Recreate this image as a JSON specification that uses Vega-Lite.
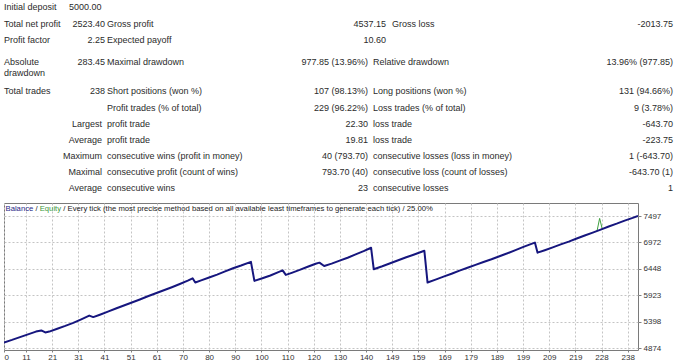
{
  "$schema": "https://vega.github.io/schema/vega-lite/v6.json",
  "padding": {"left": 3, "top": 0, "right": 0, "bottom": 0},
  "spacing": 6,
  "background": "white",
  "config": {
    "view": {"stroke": null},
    "text": {"font": "Liberation Sans"},
    "axis": {"labelFont": "Liberation Sans", "labelOverlap": false, "title": null}
  },
  "datasets": {
    "stats": [
      {"r": 1, "col": 1, "text": "Initial deposit"},
      {"r": 1, "col": 2, "text": "5000.00"},
      {"r": 2, "col": 1, "text": "Total net profit"},
      {"r": 2, "col": 4, "text": "2523.40"},
      {"r": 2, "col": 5, "text": "Gross profit"},
      {"r": 2, "col": 8, "text": "4537.15"},
      {"r": 2, "col": 9, "text": "Gross loss"},
      {"r": 2, "col": 10, "text": "-2013.75"},
      {"r": 3, "col": 1, "text": "Profit factor"},
      {"r": 3, "col": 4, "text": "2.25"},
      {"r": 3, "col": 5, "text": "Expected payoff"},
      {"r": 3, "col": 8, "text": "10.60"},
      {"r": 4, "col": 1, "text": ["Absolute", "drawdown"]},
      {"r": 4, "col": 4, "text": "283.45"},
      {"r": 4, "col": 5, "text": "Maximal drawdown"},
      {"r": 4, "col": 6, "text": "977.85 (13.96%)"},
      {"r": 4, "col": 7, "text": "Relative drawdown"},
      {"r": 4, "col": 10, "text": "13.96% (977.85)"},
      {"r": 5, "col": 1, "text": "Total trades"},
      {"r": 5, "col": 4, "text": "238"},
      {"r": 5, "col": 5, "text": "Short positions (won %)"},
      {"r": 5, "col": 6, "text": "107 (98.13%)"},
      {"r": 5, "col": 7, "text": "Long positions (won %)"},
      {"r": 5, "col": 10, "text": "131 (94.66%)"},
      {"r": 6, "col": 5, "text": "Profit trades (% of total)"},
      {"r": 6, "col": 6, "text": "229 (96.22%)"},
      {"r": 6, "col": 7, "text": "Loss trades (% of total)"},
      {"r": 6, "col": 10, "text": "9 (3.78%)"},
      {"r": 7, "col": 3, "text": "Largest"},
      {"r": 7, "col": 5, "text": "profit trade"},
      {"r": 7, "col": 6, "text": "22.30"},
      {"r": 7, "col": 7, "text": "loss trade"},
      {"r": 7, "col": 10, "text": "-643.70"},
      {"r": 8, "col": 3, "text": "Average"},
      {"r": 8, "col": 5, "text": "profit trade"},
      {"r": 8, "col": 6, "text": "19.81"},
      {"r": 8, "col": 7, "text": "loss trade"},
      {"r": 8, "col": 10, "text": "-223.75"},
      {"r": 9, "col": 3, "text": "Maximum"},
      {"r": 9, "col": 5, "text": "consecutive wins (profit in money)"},
      {"r": 9, "col": 6, "text": "40 (793.70)"},
      {"r": 9, "col": 7, "text": "consecutive losses (loss in money)"},
      {"r": 9, "col": 10, "text": "1 (-643.70)"},
      {"r": 10, "col": 3, "text": "Maximal"},
      {"r": 10, "col": 5, "text": "consecutive profit (count of wins)"},
      {"r": 10, "col": 6, "text": "793.70 (40)"},
      {"r": 10, "col": 7, "text": "consecutive loss (count of losses)"},
      {"r": 10, "col": 10, "text": "-643.70 (1)"},
      {"r": 11, "col": 3, "text": "Average"},
      {"r": 11, "col": 5, "text": "consecutive wins"},
      {"r": 11, "col": 6, "text": "23"},
      {"r": 11, "col": 7, "text": "consecutive losses"},
      {"r": 11, "col": 10, "text": "1"}
    ],
    "curve": [
      {"series": "Balance", "trade": 0, "value": 4990},
      {"series": "Balance", "trade": 3, "value": 5040},
      {"series": "Balance", "trade": 6, "value": 5095},
      {"series": "Balance", "trade": 9, "value": 5150},
      {"series": "Balance", "trade": 12, "value": 5205},
      {"series": "Balance", "trade": 14, "value": 5228},
      {"series": "Balance", "trade": 15.5, "value": 5188},
      {"series": "Balance", "trade": 17, "value": 5205},
      {"series": "Balance", "trade": 20, "value": 5262},
      {"series": "Balance", "trade": 23, "value": 5318},
      {"series": "Balance", "trade": 26, "value": 5378},
      {"series": "Balance", "trade": 29, "value": 5448},
      {"series": "Balance", "trade": 32, "value": 5522},
      {"series": "Balance", "trade": 33.5, "value": 5492},
      {"series": "Balance", "trade": 36, "value": 5540},
      {"series": "Balance", "trade": 39, "value": 5600},
      {"series": "Balance", "trade": 42, "value": 5662},
      {"series": "Balance", "trade": 45, "value": 5722},
      {"series": "Balance", "trade": 48, "value": 5782},
      {"series": "Balance", "trade": 51, "value": 5842},
      {"series": "Balance", "trade": 54, "value": 5905},
      {"series": "Balance", "trade": 57, "value": 5965},
      {"series": "Balance", "trade": 60, "value": 6025},
      {"series": "Balance", "trade": 63, "value": 6085},
      {"series": "Balance", "trade": 66, "value": 6148},
      {"series": "Balance", "trade": 69, "value": 6215},
      {"series": "Balance", "trade": 70.8, "value": 6262},
      {"series": "Balance", "trade": 71.8, "value": 6178},
      {"series": "Balance", "trade": 74, "value": 6220},
      {"series": "Balance", "trade": 77, "value": 6278},
      {"series": "Balance", "trade": 80, "value": 6335},
      {"series": "Balance", "trade": 83, "value": 6398},
      {"series": "Balance", "trade": 86, "value": 6460},
      {"series": "Balance", "trade": 89, "value": 6515},
      {"series": "Balance", "trade": 92.7, "value": 6588},
      {"series": "Balance", "trade": 94, "value": 6210},
      {"series": "Balance", "trade": 97, "value": 6262},
      {"series": "Balance", "trade": 100, "value": 6318},
      {"series": "Balance", "trade": 103, "value": 6385},
      {"series": "Balance", "trade": 104.6, "value": 6420},
      {"series": "Balance", "trade": 105.8, "value": 6330},
      {"series": "Balance", "trade": 108, "value": 6370},
      {"series": "Balance", "trade": 111, "value": 6428},
      {"series": "Balance", "trade": 114, "value": 6490},
      {"series": "Balance", "trade": 117, "value": 6550},
      {"series": "Balance", "trade": 118.4, "value": 6572},
      {"series": "Balance", "trade": 120.2, "value": 6505},
      {"series": "Balance", "trade": 123, "value": 6552},
      {"series": "Balance", "trade": 126, "value": 6612},
      {"series": "Balance", "trade": 129, "value": 6670},
      {"series": "Balance", "trade": 132, "value": 6735},
      {"series": "Balance", "trade": 135, "value": 6800},
      {"series": "Balance", "trade": 137.8, "value": 6868},
      {"series": "Balance", "trade": 138.8, "value": 6442},
      {"series": "Balance", "trade": 142, "value": 6500},
      {"series": "Balance", "trade": 145, "value": 6560},
      {"series": "Balance", "trade": 148, "value": 6620},
      {"series": "Balance", "trade": 151, "value": 6678},
      {"series": "Balance", "trade": 154, "value": 6735},
      {"series": "Balance", "trade": 157.8, "value": 6808},
      {"series": "Balance", "trade": 159, "value": 6178},
      {"series": "Balance", "trade": 162, "value": 6235},
      {"series": "Balance", "trade": 165, "value": 6295},
      {"series": "Balance", "trade": 168, "value": 6352},
      {"series": "Balance", "trade": 171, "value": 6415},
      {"series": "Balance", "trade": 174, "value": 6470},
      {"series": "Balance", "trade": 177, "value": 6528},
      {"series": "Balance", "trade": 180, "value": 6585},
      {"series": "Balance", "trade": 183, "value": 6640},
      {"series": "Balance", "trade": 186, "value": 6700},
      {"series": "Balance", "trade": 189, "value": 6758},
      {"series": "Balance", "trade": 192, "value": 6820},
      {"series": "Balance", "trade": 195, "value": 6885},
      {"series": "Balance", "trade": 198, "value": 6945},
      {"series": "Balance", "trade": 199.3, "value": 6970},
      {"series": "Balance", "trade": 200.3, "value": 6770},
      {"series": "Balance", "trade": 203, "value": 6818},
      {"series": "Balance", "trade": 206, "value": 6875},
      {"series": "Balance", "trade": 209, "value": 6935},
      {"series": "Balance", "trade": 212, "value": 6990},
      {"series": "Balance", "trade": 215, "value": 7050},
      {"series": "Balance", "trade": 218, "value": 7110},
      {"series": "Balance", "trade": 221, "value": 7168},
      {"series": "Balance", "trade": 224, "value": 7228},
      {"series": "Balance", "trade": 227, "value": 7290},
      {"series": "Balance", "trade": 230, "value": 7345},
      {"series": "Balance", "trade": 233, "value": 7405},
      {"series": "Balance", "trade": 236, "value": 7460},
      {"series": "Balance", "trade": 238, "value": 7500},
      {"series": "Equity", "trade": 222.6, "value": 7195},
      {"series": "Equity", "trade": 223.6, "value": 7450},
      {"series": "Equity", "trade": 224.6, "value": 7235}
    ],
    "header": [
      {"part": "balance", "text": "Balance"},
      {"part": "sep", "text": "/"},
      {"part": "equity", "text": "Equity"},
      {"part": "rest", "text": "/ Every tick (the most precise method based on all available least timeframes to generate each tick) / 25.00%"}
    ]
  },
  "vconcat": [
    {
      "width": 672,
      "height": 196,
      "data": {"name": "stats"},
      "encoding": {
        "x": {"field": "col", "type": "quantitative", "axis": null,
              "scale": {"domain": [1, 2, 3, 4, 5, 6, 7, 8, 9, 10], "range": [0, 65, 98, 101, 103, 364, 369, 382, 388, 669], "zero": false, "nice": false}},
        "y": {"field": "r", "type": "quantitative", "axis": null,
              "scale": {"domain": [1, 2, 3, 4, 5, 6, 7, 8, 9, 10, 11], "range": [7, 24, 40, 62, 91, 108, 124, 140, 156, 172, 188], "zero": false, "nice": false}},
        "text": {"field": "text"}
      },
      "layer": [
        {
          "transform": [{"filter": "indexof([1, 2, 5, 7, 9], datum.col) >= 0"}],
          "mark": {"type": "text", "align": "left", "baseline": "middle", "fontSize": 9, "color": "#2b2b2b", "lineHeight": 10.5}
        },
        {
          "transform": [{"filter": "indexof([3, 4, 6, 8, 10], datum.col) >= 0"}],
          "mark": {"type": "text", "align": "right", "baseline": "middle", "fontSize": 9, "color": "#2b2b2b", "lineHeight": 10.5}
        }
      ]
    },
    {
      "width": 634,
      "height": 147,
      "view": {"stroke": "#7a7a7a"},
      "layer": [
        {
          "data": {"name": "curve"},
          "transform": [{"filter": "datum.series === 'Equity'"}],
          "mark": {"type": "line", "color": "#3fa03f", "strokeWidth": 1, "strokeJoin": "round", "clip": true},
          "encoding": {
            "x": {"field": "trade", "type": "quantitative",
                  "scale": {"domain": [0, 238], "nice": false, "zero": false},
                  "axis": {"title": null, "domain": false, "tickSize": 2, "tickColor": "#808080", "values": [0, 8.26, 18.08, 27.9, 37.72, 47.54, 57.36, 67.18, 77.0, 86.82, 96.64, 106.46, 116.28, 126.1, 135.92, 145.74, 155.56, 165.38, 175.2, 185.02, 194.84, 204.66, 214.48, 224.3, 234.12], "labelExpr": "[0,11,21,31,41,51,61,70,80,90,100,110,120,130,140,149,159,169,179,189,199,209,219,228,238][round((datum.value+1.56)/9.82)]", "labelFontSize": 8, "labelColor": "#333333", "labelPadding": 1, "labelFlush": true, "labelOverlap": false, "grid": true, "gridColor": "#c4c4c4", "gridDash": [2, 2]}},
            "y": {"field": "value", "type": "quantitative",
                  "scale": {"domain": [4840, 7755], "nice": false, "zero": false},
                  "axis": {"orient": "right", "title": null, "domain": false, "tickSize": 3, "tickColor": "#808080", "values": [4874, 5398, 5923, 6448, 6972, 7497], "format": "d", "labelOverlap": false, "labelFontSize": 8, "labelColor": "#333333", "labelPadding": 2, "grid": true, "gridColor": "#c4c4c4", "gridDash": [2, 2]}}
          }
        },
        {
          "data": {"name": "curve"},
          "transform": [{"filter": "datum.series === 'Balance'"}],
          "mark": {"type": "line", "color": "#16167e", "strokeWidth": 2, "strokeJoin": "round", "clip": true},
          "encoding": {
            "x": {"field": "trade", "type": "quantitative",
                  "axis": {"title": null, "domain": false, "tickSize": 2, "tickColor": "#808080", "values": [0, 8.26, 18.08, 27.9, 37.72, 47.54, 57.36, 67.18, 77.0, 86.82, 96.64, 106.46, 116.28, 126.1, 135.92, 145.74, 155.56, 165.38, 175.2, 185.02, 194.84, 204.66, 214.48, 224.3, 234.12], "labelExpr": "[0,11,21,31,41,51,61,70,80,90,100,110,120,130,140,149,159,169,179,189,199,209,219,228,238][round((datum.value+1.56)/9.82)]", "labelFontSize": 8, "labelColor": "#333333", "labelPadding": 1, "labelFlush": true, "labelOverlap": false, "grid": true, "gridColor": "#c4c4c4", "gridDash": [2, 2]}},
            "y": {"field": "value", "type": "quantitative",
                  "axis": {"orient": "right", "title": null, "domain": false, "tickSize": 3, "tickColor": "#808080", "values": [4874, 5398, 5923, 6448, 6972, 7497], "format": "d", "labelOverlap": false, "labelFontSize": 8, "labelColor": "#333333", "labelPadding": 2, "grid": true, "gridColor": "#c4c4c4", "gridDash": [2, 2]}}
          }
        },
        {
          "data": {"name": "header"},
          "transform": [{"filter": "datum.part === 'balance'"}],
          "mark": {"type": "text", "align": "left", "baseline": "middle", "dx": 1.5, "dy": 6, "fontSize": 7.7, "color": "#1e1e86"},
          "encoding": {
            "x": {"datum": 0, "type": "quantitative",
                  "axis": {"title": null, "domain": false, "tickSize": 2, "tickColor": "#808080", "values": [0, 8.26, 18.08, 27.9, 37.72, 47.54, 57.36, 67.18, 77.0, 86.82, 96.64, 106.46, 116.28, 126.1, 135.92, 145.74, 155.56, 165.38, 175.2, 185.02, 194.84, 204.66, 214.48, 224.3, 234.12], "labelExpr": "[0,11,21,31,41,51,61,70,80,90,100,110,120,130,140,149,159,169,179,189,199,209,219,228,238][round((datum.value+1.56)/9.82)]", "labelFontSize": 8, "labelColor": "#333333", "labelPadding": 1, "labelFlush": true, "labelOverlap": false, "grid": true, "gridColor": "#c4c4c4", "gridDash": [2, 2]}},
            "y": {"datum": 7755, "type": "quantitative",
                  "axis": {"orient": "right", "title": null, "domain": false, "tickSize": 3, "tickColor": "#808080", "values": [4874, 5398, 5923, 6448, 6972, 7497], "format": "d", "labelOverlap": false, "labelFontSize": 8, "labelColor": "#333333", "labelPadding": 2, "grid": true, "gridColor": "#c4c4c4", "gridDash": [2, 2]}},
            "text": {"field": "text"}
          }
        },
        {
          "data": {"name": "header"},
          "transform": [{"filter": "datum.part === 'sep'"}],
          "mark": {"type": "text", "align": "left", "baseline": "middle", "dx": 31.5, "dy": 6, "fontSize": 7.7, "color": "#222222"},
          "encoding": {
            "x": {"datum": 0, "type": "quantitative",
                  "axis": {"title": null, "domain": false, "tickSize": 2, "tickColor": "#808080", "values": [0, 8.26, 18.08, 27.9, 37.72, 47.54, 57.36, 67.18, 77.0, 86.82, 96.64, 106.46, 116.28, 126.1, 135.92, 145.74, 155.56, 165.38, 175.2, 185.02, 194.84, 204.66, 214.48, 224.3, 234.12], "labelExpr": "[0,11,21,31,41,51,61,70,80,90,100,110,120,130,140,149,159,169,179,189,199,209,219,228,238][round((datum.value+1.56)/9.82)]", "labelFontSize": 8, "labelColor": "#333333", "labelPadding": 1, "labelFlush": true, "labelOverlap": false, "grid": true, "gridColor": "#c4c4c4", "gridDash": [2, 2]}},
            "y": {"datum": 7755, "type": "quantitative",
                  "axis": {"orient": "right", "title": null, "domain": false, "tickSize": 3, "tickColor": "#808080", "values": [4874, 5398, 5923, 6448, 6972, 7497], "format": "d", "labelOverlap": false, "labelFontSize": 8, "labelColor": "#333333", "labelPadding": 2, "grid": true, "gridColor": "#c4c4c4", "gridDash": [2, 2]}},
            "text": {"field": "text"}
          }
        },
        {
          "data": {"name": "header"},
          "transform": [{"filter": "datum.part === 'equity'"}],
          "mark": {"type": "text", "align": "left", "baseline": "middle", "dx": 35.7, "dy": 6, "fontSize": 7.7, "color": "#3c9a3c"},
          "encoding": {
            "x": {"datum": 0, "type": "quantitative",
                  "axis": {"title": null, "domain": false, "tickSize": 2, "tickColor": "#808080", "values": [0, 8.26, 18.08, 27.9, 37.72, 47.54, 57.36, 67.18, 77.0, 86.82, 96.64, 106.46, 116.28, 126.1, 135.92, 145.74, 155.56, 165.38, 175.2, 185.02, 194.84, 204.66, 214.48, 224.3, 234.12], "labelExpr": "[0,11,21,31,41,51,61,70,80,90,100,110,120,130,140,149,159,169,179,189,199,209,219,228,238][round((datum.value+1.56)/9.82)]", "labelFontSize": 8, "labelColor": "#333333", "labelPadding": 1, "labelFlush": true, "labelOverlap": false, "grid": true, "gridColor": "#c4c4c4", "gridDash": [2, 2]}},
            "y": {"datum": 7755, "type": "quantitative",
                  "axis": {"orient": "right", "title": null, "domain": false, "tickSize": 3, "tickColor": "#808080", "values": [4874, 5398, 5923, 6448, 6972, 7497], "format": "d", "labelOverlap": false, "labelFontSize": 8, "labelColor": "#333333", "labelPadding": 2, "grid": true, "gridColor": "#c4c4c4", "gridDash": [2, 2]}},
            "text": {"field": "text"}
          }
        },
        {
          "data": {"name": "header"},
          "transform": [{"filter": "datum.part === 'rest'"}],
          "mark": {"type": "text", "align": "left", "baseline": "middle", "dx": 59.3, "dy": 6, "fontSize": 7.7, "color": "#222222"},
          "encoding": {
            "x": {"datum": 0, "type": "quantitative",
                  "axis": {"title": null, "domain": false, "tickSize": 2, "tickColor": "#808080", "values": [0, 8.26, 18.08, 27.9, 37.72, 47.54, 57.36, 67.18, 77.0, 86.82, 96.64, 106.46, 116.28, 126.1, 135.92, 145.74, 155.56, 165.38, 175.2, 185.02, 194.84, 204.66, 214.48, 224.3, 234.12], "labelExpr": "[0,11,21,31,41,51,61,70,80,90,100,110,120,130,140,149,159,169,179,189,199,209,219,228,238][round((datum.value+1.56)/9.82)]", "labelFontSize": 8, "labelColor": "#333333", "labelPadding": 1, "labelFlush": true, "labelOverlap": false, "grid": true, "gridColor": "#c4c4c4", "gridDash": [2, 2]}},
            "y": {"datum": 7755, "type": "quantitative",
                  "axis": {"orient": "right", "title": null, "domain": false, "tickSize": 3, "tickColor": "#808080", "values": [4874, 5398, 5923, 6448, 6972, 7497], "format": "d", "labelOverlap": false, "labelFontSize": 8, "labelColor": "#333333", "labelPadding": 2, "grid": true, "gridColor": "#c4c4c4", "gridDash": [2, 2]}},
            "text": {"field": "text"}
          }
        }
      ]
    }
  ]
}
